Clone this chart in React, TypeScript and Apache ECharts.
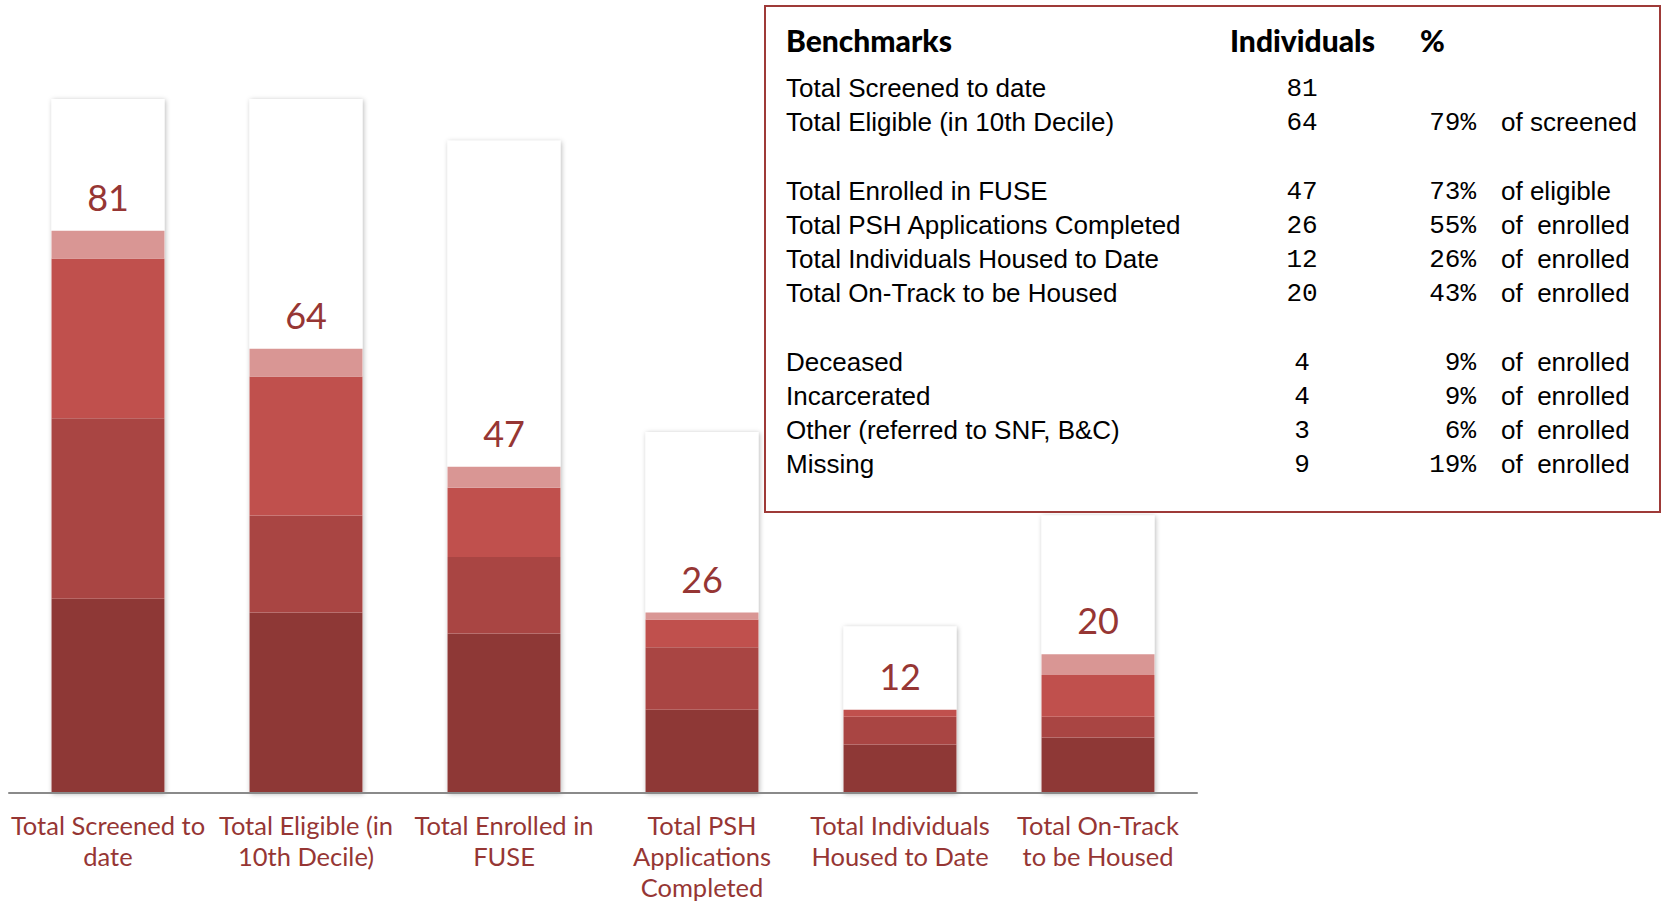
import React, { useEffect, useRef } from "react";
import * as echarts from "echarts";

const categories = [
  "Total Screened to\ndate",
  "Total Eligible (in\n10th Decile)",
  "Total Enrolled in\nFUSE",
  "Total PSH\nApplications\nCompleted",
  "Total Individuals\nHoused to Date",
  "Total On-Track\nto be Housed",
];
const totals = [81, 64, 47, 26, 12, 20];
const backdrop = [100, 100, 94, 52, 24, 40];
const segDark = [28, 26, 23, 12, 7, 8];
const segMedium = [26, 14, 11, 9, 4, 3];
const segRed = [23, 20, 10, 4, 1, 6];
const segPink = [4, 4, 3, 1, 0, 3];

const benchLabels = [
  "Total Screened to date",
  "Total Eligible (in 10th Decile)",
  "Total Enrolled in FUSE",
  "Total PSH Applications Completed",
  "Total Individuals Housed to Date",
  "Total On-Track to be Housed",
  "Deceased",
  "Incarcerated",
  "Other (referred to SNF, B&C)",
  "Missing",
];
const benchCounts = ["81", "64", "47", "26", "12", "20", "4", "4", "3", "9"];
const benchPcts = ["", "79%", "73%", "55%", "26%", "43%", "9%", "9%", "6%", "19%"];
const benchBase = [
  "",
  "of screened",
  "of eligible",
  "of  enrolled",
  "of  enrolled",
  "of  enrolled",
  "of  enrolled",
  "of  enrolled",
  "of  enrolled",
  "of  enrolled",
];
const benchGroup = [0, 0, 1, 1, 1, 1, 2, 2, 2, 2];
const headers = ["Benchmarks", "Individuals", "%"];

const COLORS = {
  dark: "#8E3836",
  medium: "#A94543",
  red: "#C0504D",
  pink: "#D99694",
  label: "#963634",
  border: "#9E3A38",
};

export default function App() {
  const ref = useRef<HTMLDivElement>(null);

  useEffect(() => {
    if (!ref.current) return;
    const chart = echarts.init(ref.current, undefined, { renderer: "svg" });

    const rowFont = "'Liberation Sans', Arial, sans-serif";
    const monoFont = "'Liberation Mono', 'DejaVu Sans Mono', monospace";
    const graphics: any[] = [
      {
        type: "rect",
        left: 764,
        top: 5,
        shape: { x: 0, y: 0, width: 895, height: 506 },
        style: { fill: "#fff", stroke: COLORS.border, lineWidth: 2 },
        z: 10,
      },
    ];
    const headerX = [786, 1230, 1420];
    headers.forEach((h, i) => {
      graphics.push({
        type: "text",
        x: headerX[i],
        y: 40,
        z: 11,
        style: {
          text: h,
          fontFamily: "Lato, sans-serif",
          fontWeight: 900,
          fontSize: 30,
          fill: "#000",
          align: "left",
          verticalAlign: "middle",
        },
      });
    });
    benchLabels.forEach((lab, i) => {
      const y = 88 + i * 34 + benchGroup[i] * 35;
      graphics.push({
        type: "text",
        x: 786,
        y,
        z: 11,
        style: { text: lab, fontFamily: rowFont, fontSize: 26, fill: "#000", align: "left", verticalAlign: "middle" },
      });
      graphics.push({
        type: "text",
        x: 1302,
        y: y + 1,
        z: 11,
        style: { text: benchCounts[i], fontFamily: monoFont, fontSize: 26, fill: "#000", align: "center", verticalAlign: "middle" },
      });
      if (benchPcts[i]) {
        graphics.push({
          type: "text",
          x: 1476,
          y: y + 1,
          z: 11,
          style: { text: benchPcts[i], fontFamily: monoFont, fontSize: 26, fill: "#000", align: "right", verticalAlign: "middle" },
        });
      }
      if (benchBase[i]) {
        graphics.push({
          type: "text",
          x: 1501,
          y,
          z: 11,
          style: { text: benchBase[i], fontFamily: rowFont, fontSize: 26, fill: "#000", align: "left", verticalAlign: "middle" },
        });
      }
    });

    const barWidth = 113;
    const seg = (name: string, data: number[], color: string) => ({
      name,
      type: "bar",
      stack: "total",
      barWidth,
      data,
      itemStyle: { color },
    });

    chart.setOption({
      animation: false,
      backgroundColor: "#fff",
      grid: { left: 9, top: 99, width: 1188, height: 694, containLabel: false },
      xAxis: {
        type: "category",
        data: categories,
        axisTick: { show: false },
        axisLine: { show: true, lineStyle: { color: "#8a8a8a", width: 2 } },
        axisLabel: {
          interval: 0,
          color: COLORS.label,
          fontFamily: "Lato, sans-serif",
          fontSize: 25.5,
          lineHeight: 31,
          margin: 16,
        },
        z: 5,
      },
      yAxis: {
        type: "value",
        min: 0,
        max: 100,
        show: false,
        splitLine: { show: false },
      },
      series: [
        {
          name: "backdrop",
          type: "bar",
          barWidth,
          barGap: "-100%",
          data: backdrop,
          itemStyle: {
            color: "#fff",
            shadowBlur: 5,
            shadowColor: "rgba(0,0,0,0.28)",
            shadowOffsetX: 1,
            shadowOffsetY: 1,
          },
          silent: true,
        },
        seg("dark", segDark, COLORS.dark),
        seg("medium", segMedium, COLORS.medium),
        seg("red", segRed, COLORS.red),
        seg("pink", segPink, COLORS.pink),
        {
          name: "totals",
          type: "bar",
          stack: "total",
          barWidth,
          data: totals.map(() => 0),
          itemStyle: { color: "transparent" },
          label: {
            show: true,
            position: "top",
            distance: 16,
            formatter: (p: any) => String(totals[p.dataIndex]),
            color: COLORS.label,
            fontFamily: "Lato, sans-serif",
            fontSize: 36,
          },
        },
      ],
      graphic: graphics,
    });

    return () => chart.dispose();
  }, []);

  return (
    <div
      ref={ref}
      style={{ position: "fixed", left: 0, top: 0, width: 1662, height: 904, background: "#fff" }}
    />
  );
}
